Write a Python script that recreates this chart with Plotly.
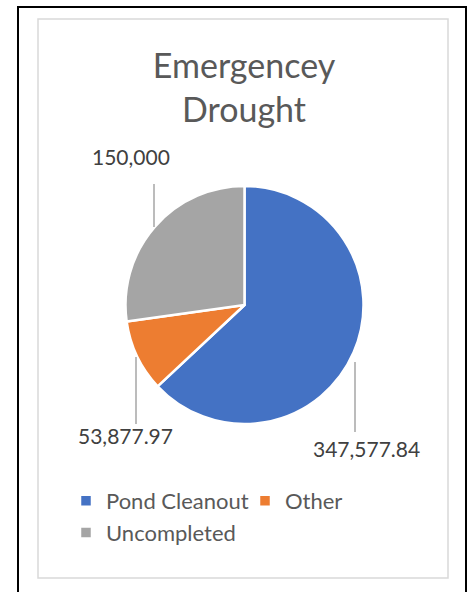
import plotly.graph_objects as go

W, H = 474, 592

labels = ["Pond Cleanout", "Other", "Uncompleted"]
values = [347577.84, 53877.97, 150000]
colors = ["#4472C4", "#ED7D31", "#A5A5A5"]
title_text = "Emergencey<br>Drought"

def fmt(v):
    return f"{v:,.0f}" if float(v).is_integer() else f"{v:,.2f}"

def px(x):
    return x / W

def py(y):
    return 1 - y / H

fig = go.Figure()
fig.add_trace(go.Pie(
    labels=labels, values=values, sort=False, direction="clockwise", rotation=0,
    marker=dict(colors=colors, line=dict(color="white", width=2.5)),
    textinfo="none", hoverinfo="label+value",
    domain=dict(x=[px(125), px(364)], y=[py(424), py(186)]),
))

# data labels (outside) with leader lines
label_pos = [(366, 448), (125, 435), (131, 157)]
leader = [((355, 362), (355, 432)), ((136, 357), (136, 424)), ((154, 184), (154, 227))]
annotations = []
for v, (lx, ly) in zip(values, label_pos):
    annotations.append(dict(text=fmt(v), x=px(lx), y=py(ly), xref="paper", yref="paper",
                            showarrow=False, xanchor="center", yanchor="middle",
                            font=dict(family="Lato", size=21, color="#404040")))

shapes = []
for (x0, y0), (x1, y1) in leader:
    shapes.append(dict(type="line", xref="paper", yref="paper",
                       x0=px(x0), y0=py(y0), x1=px(x1), y1=py(y1),
                       line=dict(color="#A6A6A6", width=1.5)))
# outer black frame and inner grey chart border
shapes.append(dict(type="rect", xref="paper", yref="paper", x0=px(18), y0=py(600), x1=px(466), y1=py(7),
                   line=dict(color="black", width=2), fillcolor="rgba(0,0,0,0)", layer="below"))
shapes.append(dict(type="rect", xref="paper", yref="paper", x0=px(38), y0=py(578), x1=px(448), y1=py(19),
                   line=dict(color="#D9D9D9", width=1.5), fillcolor="rgba(0,0,0,0)", layer="below"))

fig.update_layout(
    width=W, height=H,
    margin=dict(l=0, r=0, t=0, b=0),
    paper_bgcolor="white", plot_bgcolor="white",
    title=dict(text=title_text, x=px(244), y=py(78), xanchor="center", yanchor="middle",
               xref="paper", yref="paper",
               font=dict(family="Lato", size=34, color="#595959")),
    showlegend=True,
    legend=dict(orientation="h", x=px(66), y=py(480), xanchor="left", yanchor="top",
                font=dict(family="Lato", size=22, color="#595959"),
                entrywidth=134, traceorder="normal"),
    annotations=annotations,
    shapes=shapes,
)

fig.write_html("out.html", config={"displayModeBar": False},
               post_script="document.body.style.margin='0';document.body.style.overflow='hidden';")
